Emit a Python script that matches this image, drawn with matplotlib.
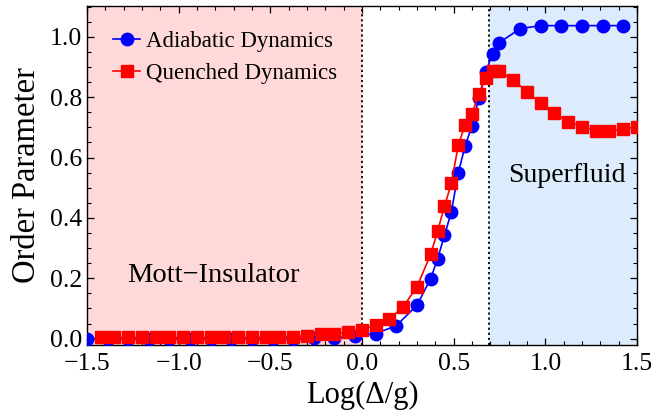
import numpy as np
import matplotlib
matplotlib.use("Agg")
import matplotlib.pyplot as plt
from matplotlib.ticker import MultipleLocator

plt.rcParams["font.family"] = ["Liberation Serif", "DejaVu Serif"]

# adiabatic dynamics (blue circles)
x_adiabatic = [-1.5, -1.3875, -1.275, -1.1625, -1.05, -0.9375, -0.825, -0.7125,
               -0.6, -0.4875, -0.375, -0.2625, -0.15, -0.0375, 0.075, 0.1875, 0.3,
               0.375, 0.4125, 0.45, 0.4875, 0.525, 0.5625, 0.6, 0.6375, 0.675,
               0.7125, 0.75, 0.8625, 0.975, 1.0875, 1.2, 1.3125, 1.425]
y_adiabatic = [0.0, 0.0, 0.0, 0.0, 0.0, 0.0, 0.0, 0.0,
               0.0, 0.0, 0.0, 0.001, 0.003, 0.008, 0.017, 0.043, 0.111,
               0.199, 0.265, 0.342, 0.420, 0.549, 0.638, 0.705, 0.797, 0.885,
               0.943, 0.981, 1.027, 1.037, 1.037, 1.037, 1.037, 1.037]

# quenched dynamics (red squares)
x_quenched = [-1.425, -1.35, -1.275, -1.2, -1.125, -1.05, -0.975, -0.9, -0.825,
              -0.75, -0.675, -0.6, -0.525, -0.45, -0.375, -0.3, -0.225, -0.15,
              -0.075, 0.0, 0.075, 0.15, 0.225, 0.3,
              0.375, 0.4125, 0.45, 0.4875, 0.525, 0.5625, 0.6, 0.6375, 0.675,
              0.7125, 0.75, 0.825, 0.9, 0.975, 1.05, 1.125, 1.2, 1.275, 1.35,
              1.425, 1.5]
y_quenched = [0.004, 0.004, 0.004, 0.004, 0.004, 0.004, 0.004, 0.004, 0.004,
              0.004, 0.004, 0.004, 0.005, 0.007, 0.006, 0.010, 0.015, 0.016,
              0.021, 0.029, 0.045, 0.065, 0.106, 0.172,
              0.280, 0.356, 0.439, 0.514, 0.640, 0.709, 0.745, 0.811, 0.862,
              0.886, 0.886, 0.857, 0.818, 0.780, 0.747, 0.719, 0.702, 0.689,
              0.689, 0.694, 0.702]

x_transition = [0.0, np.log(2)]

fig = plt.figure(figsize=(6.55, 4.2), dpi=100)
ax = fig.add_axes([0.1328, 0.1786, 0.8397, 0.8071])

ax.axvspan(-1.5, x_transition[0], color="#ffd9d9", lw=0, zorder=0)
ax.axvspan(x_transition[1], 1.5, color="#dcecfc", lw=0, zorder=0)
for xv in x_transition:
    ax.axvline(xv, color="black", lw=1.3, ls=(0, (1.2, 1.6)), zorder=1)

ax.plot(x_adiabatic, y_adiabatic, "-o", color="blue", ms=9, lw=1.2,
        label="Adiabatic Dynamics", zorder=3)
ax.plot(x_quenched, y_quenched, "-s", color="red", ms=8.3, lw=1.2,
        label="Quenched Dynamics", zorder=4)

ax.text(-0.81, 0.21, "Mott\u2212Insulator", fontsize=20.5, ha="center", va="center")
ax.text(1.115, 0.542, "Superfluid", fontsize=20, ha="center", va="center")

ax.set_xlim(-1.5, 1.5)
ax.set_ylim(-0.021, 1.102)
ax.xaxis.set_major_locator(MultipleLocator(0.5))
ax.xaxis.set_minor_locator(MultipleLocator(0.1))
ax.yaxis.set_major_locator(MultipleLocator(0.2))
ax.yaxis.set_minor_locator(MultipleLocator(0.05))
ax.tick_params(which="both", direction="in", top=True, right=True, labelsize=18.5)
ax.tick_params(which="major", length=5, width=0.9)
ax.tick_params(which="minor", length=3, width=0.8)
ax.tick_params(axis="x", pad=6)
for sp in ax.spines.values():
    sp.set_linewidth(1.0)
ax.set_xlabel("Log(\u0394/g)", fontsize=22, labelpad=4)
ax.set_ylabel("Order Parameter", fontsize=23.5, labelpad=6)

ax.legend(loc="upper left", frameon=False, fontsize=16.5, handlelength=1.2,
          handletextpad=0.25, borderaxespad=0, borderpad=0, labelspacing=0.45,
          bbox_to_anchor=(0.047, 0.925))

fig.savefig("out.png", dpi=100)
